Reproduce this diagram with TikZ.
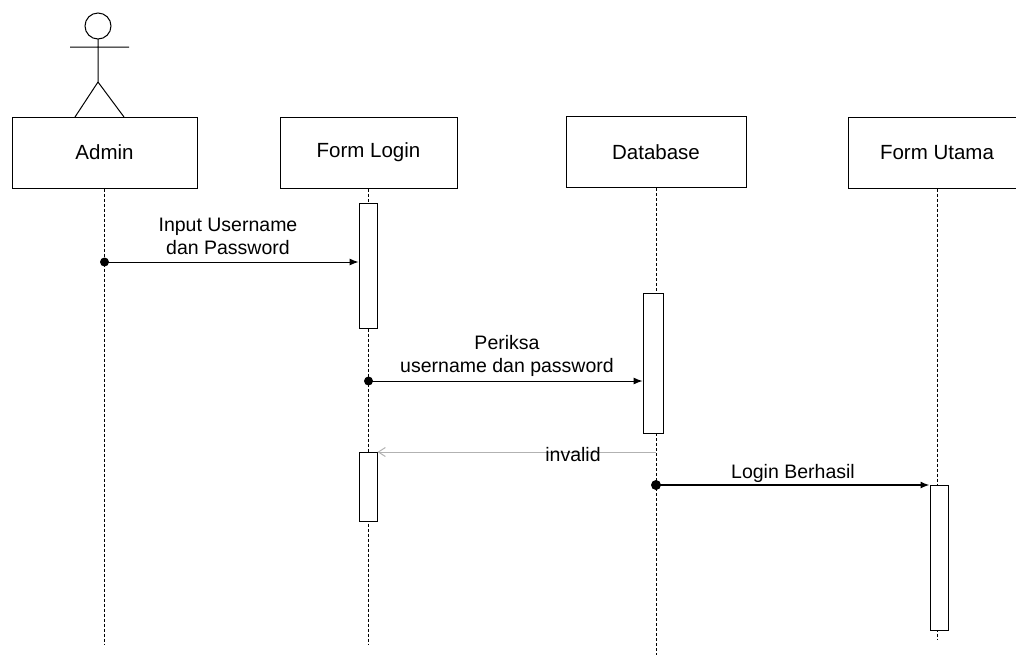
\documentclass[tikz,border=0pt]{standalone}
\usepackage{fontspec}
\setmainfont{Liberation Sans}
\usetikzlibrary{arrows.meta}
\tikzset{
  obj/.style={draw, line width=1pt, minimum height=71pt, font=\fontsize{20.5}{24}\selectfont},
  life/.style={densely dashed, line width=0.8pt},
  act/.style={draw, line width=0.9pt, fill=white, minimum width=18pt, anchor=north},
  msg/.style={line width=1pt, -{Latex[length=9pt,width=7pt]}},
  reply/.style={line width=1pt, gray!60, -{Straight Barb[length=7pt,width=9pt]}},
  lbl/.style={font=\fontsize{19.5}{23}\selectfont, align=center},
}
\begin{document}
\begin{tikzpicture}[x=1pt,y=-1pt]
  \useasboundingbox (0,0) rectangle (1016,657);
  \draw[line width=1pt]
    (98,26) circle (13)
    (70,47) -- (129,47)
    (98,39) -- (98,82)
    (75,117) -- (98,82) -- (124,117);
  \node[obj, minimum width=185pt] (admin) at (104.5,152.5) {Admin};
  \node[obj, minimum width=177pt] (login) at (368.5,152.5) {Form Login};
  \node[obj, minimum width=180pt] (db) at (656,152) {Database};
  \node[obj, minimum width=178pt] (utama) at (937,152.5) {Form Utama};
  \begin{scope}[life]
    \draw (admin.south) -- (admin.south |- 0,645);
    \draw (login.south) -- (login.south |- 0,645);
    \draw (db.south) -- (db.south |- 0,655);
    \draw (utama.south) -- (utama.south |- 0,640);
  \end{scope}
  \node[act, minimum height=125pt] (login1) at (368,203) {};
  \node[act, minimum height=140pt, minimum width=20pt] (db1) at (653,293) {};
  \node[act, minimum height=69pt] (login2) at (368,452) {};
  \node[act, minimum height=145pt] (utama1) at (939,485) {};
  \coordinate (m1) at (admin.south |- 0,262);
  \coordinate (m2) at (login.south |- 0,381);
  \coordinate (m3) at (db.south |- 0,452);
  \coordinate (m4) at (db.south |- 0,485);
  \draw[msg] (m1) -- (m1 -| login1.west);
  \fill (m1) circle (4.5);
  \draw[msg] (m2) -- (m2 -| db1.west);
  \fill (m2) circle (4.5);
  \draw[reply] (m3) -- (m3 -| login2.east);
  \draw[msg, line width=1.6pt] (m4) -- (m4 -| utama1.west);
  \fill (m4) circle (5);
  \node[lbl] (t1) at (228,236) {Input Username\\dan Password};
  \node[lbl] (t2) at (507,356) {Periksa\\username dan password};
  \node[lbl] (t3) at (573,455) {invalid};
  \node[lbl] (t4) at (793,473) {Login Berhasil};
\end{tikzpicture}
\end{document}
